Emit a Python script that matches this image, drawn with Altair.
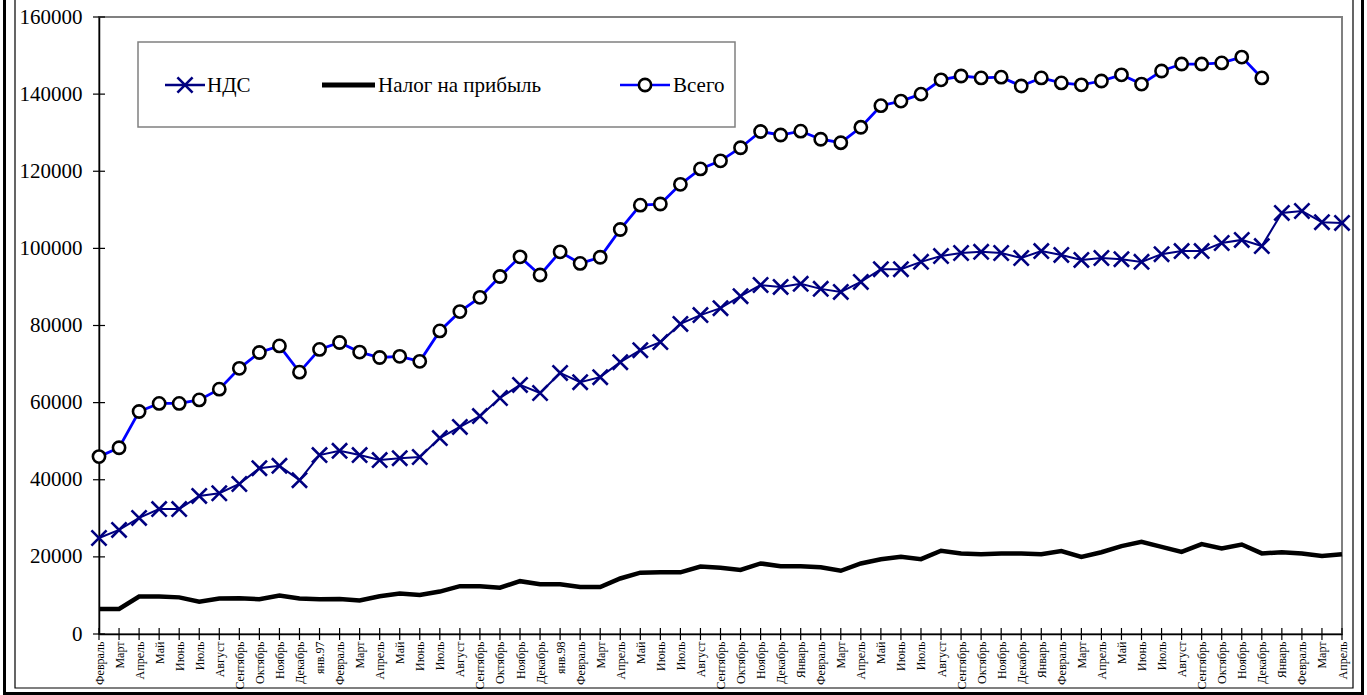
import altair as alt
import pandas as pd

# Month labels, February 1996 .. April 2001
months = [
    "Февраль", "Март", "Апрель", "Май", "Июнь", "Июль", "Август", "Сентябрь", "Октябрь", "Ноябрь", "Декабрь",
    "янв.97", "Февраль", "Март", "Апрель", "Май", "Июнь", "Июль", "Август", "Сентябрь", "Октябрь", "Ноябрь", "Декабрь",
    "янв.98", "Февраль", "Март", "Апрель", "Май", "Июнь", "Июль", "Август", "Сентябрь", "Октябрь", "Ноябрь", "Декабрь",
    "Январь", "Февраль", "Март", "Апрель", "Май", "Июнь", "Июль", "Август", "Сентябрь", "Октябрь", "Ноябрь", "Декабрь",
    "Январь", "Февраль", "Март", "Апрель", "Май", "Июнь", "Июль", "Август", "Сентябрь", "Октябрь", "Ноябрь", "Декабрь",
    "Январь", "Февраль", "Март", "Апрель",
]

# НДС
vat = [
    24900, 27000, 30100, 32400, 32400, 35800, 36500, 38900, 43000, 43600,
    39900, 46400, 47500, 46400, 45100, 45600, 45900, 50800, 53700, 56500,
    61200, 64600, 62500, 67700, 65300, 66600, 70500, 73600, 75700, 80400,
    82700, 84500, 87600, 90500, 90000, 90800, 89500, 88700, 91300, 94600,
    94600, 96500, 98000, 98800, 99100, 98800, 97500, 99300, 98300, 97000,
    97500, 97200, 96500, 98500, 99300, 99300, 101400, 102200, 100600, 109200,
    109700, 106800, 106600,
]

# Налог на прибыль
profit_tax = [
    6500, 6500, 9700, 9700, 9500, 8400, 9200, 9300, 9000, 10000,
    9200, 9000, 9100, 8700, 9800, 10500, 10100, 11000, 12400, 12400,
    12000, 13700, 12900, 12900, 12200, 12200, 14400, 15900, 16000, 16000,
    17500, 17200, 16600, 18300, 17600, 17600, 17300, 16400, 18300, 19400,
    20000, 19400, 21600, 20900, 20700, 20900, 20900, 20700, 21500, 20000,
    21200, 22800, 23900, 22600, 21300, 23300, 22200, 23200, 20900, 21200,
    20900, 20200, 20700,
]

# Всего (no figures after December 2000)
total = [
    46000, 48300, 57700, 59800, 59800, 60700, 63500, 68900, 73000, 74700,
    67900, 73800, 75600, 73100, 71700, 72000, 70700, 78600, 83600, 87300,
    92700, 97800, 93100, 99100, 96100, 97700, 104900, 111200, 111500, 116600,
    120600, 122700, 126100, 130300, 129400, 130400, 128300, 127400, 131400, 137000,
    138200, 140000, 143700, 144700, 144200, 144400, 142100, 144200, 142900, 142400,
    143400, 145000, 142600, 146000, 147800, 147800, 148100, 149600, 144200,
    None, None, None, None,
]

y_ticks = [0, 20000, 40000, 60000, 80000, 100000, 120000, 140000, 160000]
legend_labels = ["НДС", "Налог на прибыль", "Всего"]

df = pd.DataFrame({
    "idx": list(range(len(months))),
    "vat": vat,
    "profit": profit_tax,
    "total": total,
})
tick_df = pd.DataFrame({"v": y_ticks})
one = pd.DataFrame({"k": [0]})

FONT = "Liberation Serif, Times New Roman, DejaVu Serif, serif"
NAVY = "#000080"
BLUE = "#0000FF"
X_SHAPE = "M-1,-1L1,1M-1,1L1,-1"

label_expr = "[" + ",".join("'" + m + "'" for m in months) + "][datum.value]"

x_enc = alt.X(
    "idx:O",
    title=None,
    scale=alt.Scale(type="point", padding=0),
    axis=alt.Axis(
        labelExpr=label_expr, labelAngle=270, labelFontSize=12, labelFont=FONT,
        labelColor="black", labelPadding=7, ticks=False, domainColor="black",
        domainWidth=1.5, labelOverlap=False, grid=False,
    ),
)
y_axis = alt.Axis(
    values=y_ticks, format="d", labelFontSize=21, labelFont=FONT, labelColor="black",
    labelPadding=17, ticks=False, grid=False, domainColor="black", domainWidth=1.5,
)
y_scale = alt.Scale(domain=[0, 160000], nice=False)


def y_enc(field):
    return alt.Y(f"{field}:Q", title=None, scale=y_scale, axis=y_axis)


base = alt.Chart(df)

# series
profit_line = base.mark_line(color="black", strokeWidth=4.5).encode(x=x_enc, y=y_enc("profit"))
vat_line = base.mark_line(color=NAVY, strokeWidth=2).encode(x=x_enc, y=y_enc("vat"))
vat_pts = base.mark_point(shape=X_SHAPE, size=230, color=NAVY, strokeWidth=2.6, opacity=1).encode(
    x=x_enc, y=y_enc("vat"))
total_line = base.mark_line(color=BLUE, strokeWidth=2.8).encode(x=x_enc, y=y_enc("total"))
total_pts = base.mark_point(shape="circle", size=150, filled=True, fill="white", stroke="black",
                            strokeWidth=2.6, opacity=1).encode(x=x_enc, y=y_enc("total"))

# crossing tick marks on both axes
x_ticks = base.mark_rule(color="black", strokeWidth=1.2).encode(
    x=x_enc, y=alt.value(611), y2=alt.value(623))
y_tick_marks = alt.Chart(tick_df).mark_rule(color="black", strokeWidth=1.2).encode(
    y=alt.Y("v:Q", title=None, scale=y_scale, axis=y_axis), x=alt.value(-6), x2=alt.value(6))

# outer frames (top edges lie above the canvas)
deco = alt.Chart(one)
outer = deco.mark_rect(filled=False, stroke="black", strokeWidth=3).encode(
    x=alt.value(-94.5), x2=alt.value(1263.5), y=alt.value(-40), y2=alt.value(676.5))
inner = deco.mark_rect(filled=False, stroke="black", strokeWidth=1.2).encode(
    x=alt.value(-84), x2=alt.value(1254), y=alt.value(-40), y2=alt.value(671))

# legend
leg_box = deco.mark_rect(fill="white", stroke="#808080", strokeWidth=1.5).encode(
    x=alt.value(39), x2=alt.value(636), y=alt.value(25), y2=alt.value(110))
leg_vat_line = deco.mark_rule(color=NAVY, strokeWidth=2.4).encode(
    x=alt.value(66), x2=alt.value(106), y=alt.value(68))
leg_vat_pt = deco.mark_point(shape=X_SHAPE, size=230, color=NAVY, strokeWidth=2.6, opacity=1).encode(
    x=alt.value(86), y=alt.value(68))
leg_profit_line = deco.mark_rule(color="black", strokeWidth=5).encode(
    x=alt.value(223), x2=alt.value(276), y=alt.value(68))
leg_total_line = deco.mark_rule(color=BLUE, strokeWidth=2.6).encode(
    x=alt.value(521), x2=alt.value(571), y=alt.value(68))
leg_total_pt = deco.mark_point(shape="circle", size=150, filled=True, fill="white", stroke="black",
                               strokeWidth=2.6, opacity=1).encode(x=alt.value(546), y=alt.value(68))
leg_texts = [
    deco.mark_text(text=lab, font=FONT, fontSize=21, align="left", baseline="middle", color="black").encode(
        x=alt.value(px), y=alt.value(69))
    for lab, px in zip(legend_labels, [108, 279, 574])
]

chart = alt.layer(
    outer, inner,
    profit_line, vat_line, vat_pts, total_line, total_pts,
    x_ticks, y_tick_marks,
    leg_box, leg_vat_line, leg_vat_pt, leg_profit_line, leg_total_line, leg_total_pt,
    *leg_texts,
).properties(
    width=1243, height=617,
    padding={"left": 99, "top": 17, "right": 25, "bottom": 61},
    autosize=alt.AutoSizeParams(type="none"),
    background="white",
).configure_view(stroke="#808080", strokeWidth=2)

chart.save("out.html", embed_options={"renderer": "svg", "actions": False})
